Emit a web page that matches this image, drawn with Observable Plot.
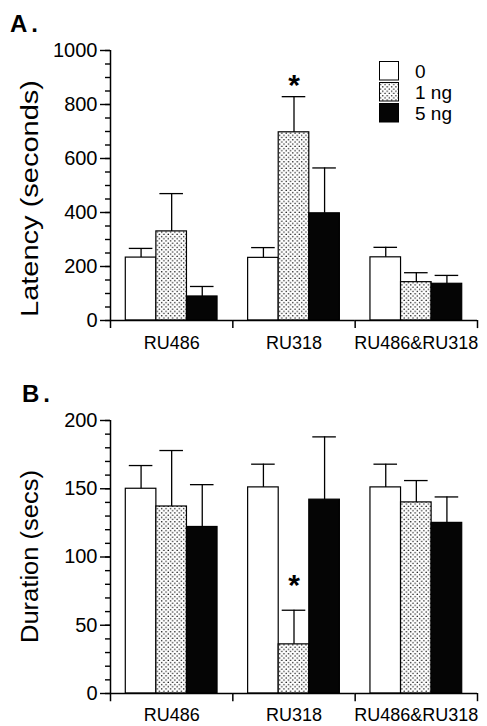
<!DOCTYPE html>
<html><head><meta charset="utf-8">
<script src="https://cdn.jsdelivr.net/npm/d3@7"></script>
<script src="https://cdn.jsdelivr.net/npm/@observablehq/plot@0.6"></script>
<style>
body{margin:0;background:#fff;}
#wrap{position:relative;width:487px;height:726px;font-family:"Liberation Sans",Arial,Helvetica,sans-serif;background:#fff;}
#wrap svg{display:block;}
#overlay{position:absolute;left:0;top:0;pointer-events:none;}
</style></head><body><div id="wrap"></div>
<script>
// ---- data ----
const groups = ["RU486", "RU318", "RU486&RU318"];
const doses = ["0", "1 ng", "5 ng"];
const latencyMean = [[233, 330, 89], [232, 697, 397], [234, 142, 136]];
const latencySem  = [[34, 140, 37], [38, 132, 168], [37, 35, 31]];
const durationMean = [[150, 137, 122], [151, 36, 142], [151, 140, 125]];
const durationSem  = [[17, 41, 31], [17, 25, 46], [17, 16, 19]];
const latencyTicks = [0, 200, 400, 600, 800, 1000];
const durationTicks = [0, 50, 100, 150, 200];
const latencyMinorStep = 50;
const durationMinorStep = 10;
const starGroup = "RU318", starDose = "1 ng";
const latencyStarY = 870;
const durationStarY = 79;
const panelLabels = ["A.", "B."];
const axisTitles = ["Latency (seconds)", "Duration (secs)"];

// ---- layout ----
const W = 487, marginLeft = 110, marginRight = 10;
const step = (W - marginLeft - marginRight) / groups.length / (doses.length + 1);
const fills = {"0": "white", "1 ng": "url(#dots)", "5 ng": "#050505"};
const font = '"Liberation Sans", Arial, Helvetica, sans-serif';

function table(mean, sem) {
  return groups.flatMap((g, i) => doses.map((d, j) => ({group: g, dose: d, mean: mean[i][j], top: mean[i][j] + sem[i][j]})));
}

function panel({mean, sem, height, marginTop, marginBottom, yMax, ticks, minorStep, labelPad, ext, starY}) {
  const data = table(mean, sem);
  const minor = d3.range(0, yMax + minorStep / 2, minorStep);
  const leftEdges = groups.map((g, i) => ({group: g, dose: doses[0], y2: i === 0 ? yMax : 0}));
  const rightEdge = [{group: groups[groups.length - 1], dose: doses[doses.length - 1]}];
  return Plot.plot({
    width: W, height, marginTop, marginBottom, marginLeft, marginRight,
    fx: {domain: groups, padding: 0, round: false, label: null},
    x: {domain: doses, paddingInner: 0, paddingOuter: 0.5, round: false, axis: null},
    y: {domain: [0, yMax], label: null},
    style: {fontFamily: font, fontSize: "20px", color: "black", background: "white", overflow: "visible"},
    marks: [
      Plot.axisY(minor, {tickSize: 5, tickFormat: () => "", strokeWidth: 1.4, label: null}),
      Plot.axisY(ticks, {tickSize: 10, tickPadding: 3, fontSize: 20, strokeWidth: 1.4, tickFormat: d => String(d), label: null}),
      Plot.axisFx({anchor: "bottom", tickSize: 0, tickPadding: labelPad, fontSize: 18, label: null}),
      ...doses.map(d => Plot.barY(data.filter(r => r.dose === d), {fx: "group", x: "dose", y: "mean", fill: fills[d], stroke: "black", strokeWidth: 1.2})),
      Plot.ruleX(data, {fx: "group", x: "dose", y1: "mean", y2: "top", strokeWidth: 1.3}),
      Plot.tickY(data, {fx: "group", x: "dose", y: "top", insetLeft: 3.5, insetRight: 3.5, strokeWidth: 1.3}),
      Plot.ruleY([0], {strokeWidth: 1.5}),
      Plot.ruleX(leftEdges, {fx: "group", x: "dose", y1: -ext, y2: "y2", dx: -step, strokeWidth: 1.5}),
      Plot.ruleX(rightEdge, {fx: "group", x: "dose", y1: -ext, y2: 0, dx: step, strokeWidth: 1.5}),
      Plot.text([{group: starGroup, dose: starDose, y: starY}], {fx: "group", x: "dose", y: "y", text: () => "*", fontSize: 30, fontWeight: "bold", lineAnchor: "middle"})
    ]
  });
}

const wrap = document.getElementById("wrap");
const plotA = panel({mean: latencyMean, sem: latencySem, height: 360, marginTop: 50, marginBottom: 40, yMax: 1000, ticks: latencyTicks, minorStep: latencyMinorStep, labelPad: 16, ext: 30, starY: latencyStarY});
const plotB = panel({mean: durationMean, sem: durationSem, height: 366, marginTop: 60, marginBottom: 33, yMax: 200, ticks: durationTicks, minorStep: durationMinorStep, labelPad: 15, ext: 6, starY: durationStarY});
wrap.appendChild(plotA);
wrap.appendChild(plotB);

// overlay: pattern, panel letters, axis titles, legend
const ov = d3.select(wrap).append("svg").attr("id", "overlay").attr("width", W).attr("height", 726)
  .style("font-family", font);
const T = 4.4;
const pat = ov.append("defs").append("pattern").attr("id", "dots").attr("width", T).attr("height", T).attr("patternUnits", "userSpaceOnUse");
pat.append("rect").attr("width", T).attr("height", T).attr("fill", "white");
pat.append("circle").attr("cx", T / 4).attr("cy", T / 4).attr("r", 0.75).attr("fill", "#111");
pat.append("circle").attr("cx", 3 * T / 4).attr("cy", 3 * T / 4).attr("r", 0.75).attr("fill", "#111");

const letterPos = [[10, 32], [22, 402]];
panelLabels.forEach((t, i) => ov.append("text").attr("x", letterPos[i][0]).attr("y", letterPos[i][1])
  .attr("font-size", 24).attr("font-weight", "bold").attr("letter-spacing", 4).text(t));

const titlePos = [[38, 198.5, 237], [38, 556.5, 173]];
axisTitles.forEach((t, i) => ov.append("text")
  .attr("transform", `translate(${titlePos[i][0]},${titlePos[i][1]}) rotate(-90)`)
  .attr("text-anchor", "middle").attr("font-size", 23)
  .attr("textLength", titlePos[i][2]).attr("lengthAdjust", "spacingAndGlyphs").text(t));

const leg = ov.append("g").attr("transform", "translate(379.5,61.5)");
doses.forEach((d, i) => {
  leg.append("rect").attr("x", 0).attr("y", i * 21).attr("width", 19).attr("height", 18.5)
    .attr("fill", fills[d]).attr("stroke", "black").attr("stroke-width", 1);
  leg.append("text").attr("x", 35.5).attr("y", i * 21 + 16).attr("font-size", 19).text(d);
});
</script></body></html>
